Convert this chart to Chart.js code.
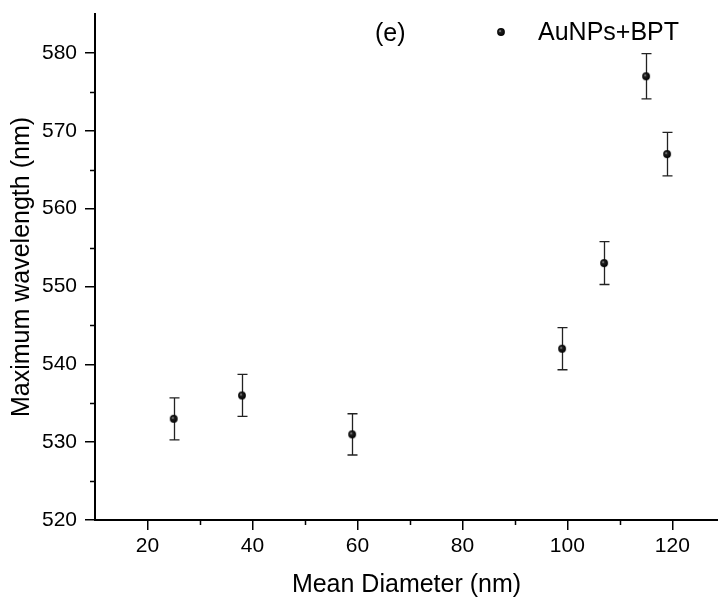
<!DOCTYPE html>
<html><head><meta charset="utf-8">
<script src="https://cdn.jsdelivr.net/npm/chart.js@4.4.0/dist/chart.umd.min.js"></script>
<style>html,body{margin:0;padding:0;background:#fff}#wrap{width:718px;height:600px}</style>
</head><body><div id="wrap"><canvas id="c" width="718" height="600"></canvas></div>
<script>
const diameters = [25, 38, 59, 99, 107, 115, 119];
const wavelengths = [533, 536, 531, 542, 553, 577, 567];
const errors = [2.7, 2.7, 2.65, 2.7, 2.75, 2.9, 2.8];
const xTicks = [20, 40, 60, 80, 100, 120];
const xMinorTicks = [30, 50, 70, 90, 110];
const yTicks = [520, 530, 540, 550, 560, 570, 580];
const yMinorTicks = [525, 535, 545, 555, 565, 575];
const seriesLabel = 'AuNPs+BPT';
const panelLabel = '(e)';
const xTitle = 'Mean Diameter (nm)';
const yTitle = 'Maximum wavelength (nm)';

const FAMILY = '"Liberation Sans", Arial, sans-serif';

function sphere(r) {
  const s = Math.ceil(r * 2 + 2);
  const c = document.createElement('canvas');
  c.width = c.height = s;
  const g = c.getContext('2d');
  const cx = s / 2, cy = s / 2;
  const grad = g.createRadialGradient(cx - r * 0.3, cy - r * 0.3, 0, cx, cy, r);
  grad.addColorStop(0, '#cfcfcf');
  grad.addColorStop(0.3, '#222');
  grad.addColorStop(1, '#000');
  g.fillStyle = grad;
  g.beginPath(); g.arc(cx, cy, r, 0, Math.PI * 2); g.fill();
  return c;
}
const ball = sphere(3.9);

const points = diameters.map((d, i) => ({ x: d, y: wavelengths[i] }));

const errorBars = {
  id: 'errorBars',
  beforeDatasetsDraw(chart) {
    const ctx = chart.ctx, xs = chart.scales.x, ys = chart.scales.y;
    ctx.save();
    ctx.strokeStyle = '#222';
    ctx.lineWidth = 1.3;
    diameters.forEach((d, i) => {
      const px = Math.round(xs.getPixelForValue(d)) + 0.5;
      const top = ys.getPixelForValue(wavelengths[i] + errors[i]);
      const bot = ys.getPixelForValue(wavelengths[i] - errors[i]);
      ctx.beginPath();
      ctx.moveTo(px, top); ctx.lineTo(px, bot);
      ctx.moveTo(px - 5, top); ctx.lineTo(px + 5, top);
      ctx.moveTo(px - 5, bot); ctx.lineTo(px + 5, bot);
      ctx.stroke();
    });
    ctx.restore();
  }
};

const extras = {
  id: 'extras',
  afterDraw(chart) {
    const ctx = chart.ctx, xs = chart.scales.x, ys = chart.scales.y;
    const area = chart.chartArea;
    ctx.save();
    ctx.strokeStyle = '#000';
    ctx.lineWidth = 1.5;
    ctx.beginPath();
    xMinorTicks.forEach(v => {
      const px = Math.round(xs.getPixelForValue(v)) + 0.5;
      ctx.moveTo(px, area.bottom); ctx.lineTo(px, area.bottom + 5);
    });
    yMinorTicks.forEach(v => {
      const py = Math.round(ys.getPixelForValue(v)) + 0.5;
      ctx.moveTo(area.left, py); ctx.lineTo(area.left - 5, py);
    });
    ctx.stroke();
    ctx.fillStyle = '#000';
    ctx.font = '25px ' + FAMILY;
    ctx.textBaseline = 'middle';
    ctx.textAlign = 'left';
    ctx.fillText(panelLabel, 375, 34);
    ctx.drawImage(ball, 501 - ball.width / 2, 32 - ball.height / 2);
    ctx.fillText(seriesLabel, 538, 33);
    ctx.restore();
  }
};

new Chart(document.getElementById('c'), {
  type: 'scatter',
  data: {
    datasets: [{
      label: seriesLabel,
      data: points,
      pointStyle: ball,
      pointRadius: 4,
      showLine: false
    }]
  },
  options: {
    responsive: false,
    animation: false,
    devicePixelRatio: 1,
    layout: { autoPadding: false, padding: { top: 14, right: 0, left: 0, bottom: 0 } },
    plugins: { legend: { display: false }, tooltip: { enabled: false } },
    scales: {
      x: {
        type: 'linear', min: 10, max: 128.7,
        afterBuildTicks: s => { s.ticks = xTicks.map(v => ({ value: v })); },
        afterFit: s => { s.height = 80; s.paddingLeft = 0; s.paddingRight = 0; },
        grid: { drawOnChartArea: false, drawTicks: true, tickLength: 10, color: '#000', lineWidth: 1.5 },
        border: { display: true, color: '#000', width: 2 },
        ticks: { color: '#000', font: { family: FAMILY, size: 21 }, padding: 4, maxRotation: 0, autoSkip: false },
        title: { display: true, text: xTitle, color: '#000', font: { family: FAMILY, size: 25 }, padding: { top: 0, bottom: 0 } }
      },
      y: {
        type: 'linear', min: 520, max: 585,
        afterBuildTicks: s => { s.ticks = yTicks.map(v => ({ value: v })); },
        afterFit: s => { s.width = 95; s.paddingTop = 0; s.paddingBottom = 0; },
        grid: { drawOnChartArea: false, drawTicks: true, tickLength: 10, color: '#000', lineWidth: 1.5 },
        border: { display: true, color: '#000', width: 2 },
        ticks: { color: '#000', font: { family: FAMILY, size: 21 }, padding: 8, autoSkip: false },
        title: { display: true, text: yTitle, color: '#000', font: { family: FAMILY, size: 25 }, padding: { top: 7, bottom: 0 } }
      }
    }
  },
  plugins: [errorBars, extras]
});
</script>
</body></html>
